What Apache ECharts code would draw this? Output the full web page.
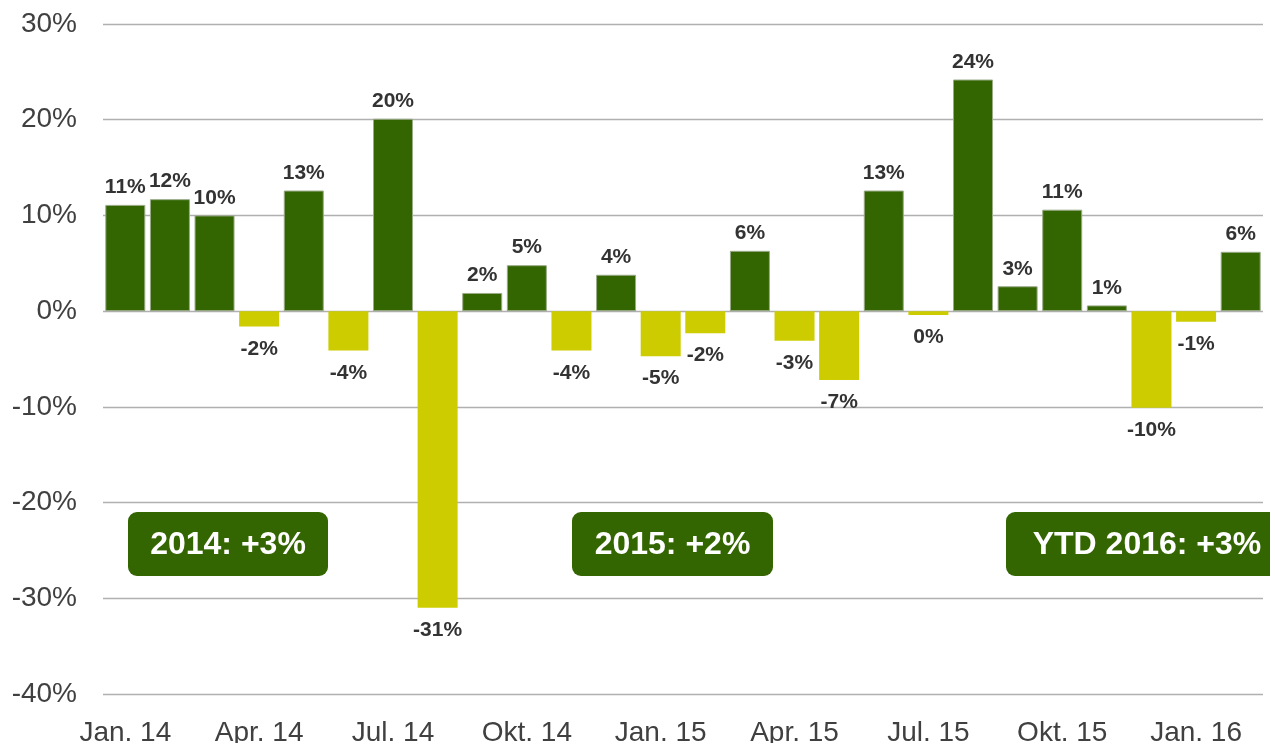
<!DOCTYPE html>
<html>
<head>
<meta charset="utf-8">
<script src="https://cdn.jsdelivr.net/npm/echarts@6/dist/echarts.min.js"></script>
<style>
html,body{margin:0;padding:0;background:#fff;}
#c{width:1270px;height:743px;}
</style>
</head>
<body>
<div id="c"></div>
<script>
const categories = ["Jan. 14","Feb. 14","Mrz. 14","Apr. 14","Mai. 14","Jun. 14","Jul. 14","Aug. 14","Sep. 14","Okt. 14","Nov. 14","Dez. 14",
  "Jan. 15","Feb. 15","Mrz. 15","Apr. 15","Mai. 15","Jun. 15","Jul. 15","Aug. 15","Sep. 15","Okt. 15","Nov. 15","Dez. 15",
  "Jan. 16","Feb. 16"];
const returns = [11.1, 11.7, 10.0, -1.6, 12.6, -4.1, 20.1, -31.0, 1.9, 4.8, -4.1, 3.8,
  -4.7, -2.3, 6.3, -3.1, -7.2, 12.6, -0.4, 24.2, 2.6, 10.6, 0.6, -10.1,
  -1.1, 6.2];
const yTicks = {min: -40, max: 30, interval: 10};
const annotations = ["2014: +3%", "2015: +2%", "YTD 2016: +3%"];

const POS = '#336600', NEG = '#cccc00';
const FONT = '"Liberation Sans", Arial, sans-serif';

const chart = echarts.init(document.getElementById('c'), null, {renderer: 'canvas'});
const data = returns.map(v => ({
  value: v,
  itemStyle: v >= 0 ? {color: POS, borderColor: '#9aab88', borderWidth: 1} : {color: NEG},
  label: {position: v >= 0 ? 'top' : 'bottom', distance: v >= 0 ? 7 : 12}
}));

function box(cx, cy, w, h, text) {
  return {
    type: 'group',
    children: [
      {type: 'rect', shape: {x: cx - w / 2, y: cy - h / 2, width: w, height: h, r: 9}, style: {fill: POS}},
      {type: 'text', x: cx, y: cy + 1, style: {text: text, fill: '#fff', font: 'bold 32px ' + FONT, align: 'center', verticalAlign: 'middle'}}
    ]
  };
}

chart.setOption({
  animation: false,
  backgroundColor: '#fff',
  grid: {left: 103, right: 7, top: 24, bottom: 49, containLabel: false, outerBoundsMode: 'none'},
  xAxis: {
    type: 'category',
    data: categories,
    axisLine: {show: false},
    axisTick: {show: false},
    axisLabel: {interval: 2, color: '#404040', fontSize: 28, fontFamily: FONT, margin: 25}
  },
  yAxis: {
    type: 'value',
    min: yTicks.min, max: yTicks.max, interval: yTicks.interval,
    axisLine: {show: false},
    axisTick: {show: false},
    axisLabel: {formatter: v => v + '%', color: '#404040', fontSize: 28, fontFamily: FONT, margin: 26, padding: [4, 0, 0, 0]},
    splitLine: {lineStyle: {color: '#b0b0b0', width: 1.3}}
  },
  series: [{
    type: 'bar',
    data: data,
    barWidth: 40,
    label: {
      show: true,
      formatter: p => (Math.round(p.value) + 0) + '%',
      fontSize: 21, fontWeight: 'bold', color: '#333333', fontFamily: FONT
    }
  }],
  graphic: [
    box(228, 544, 200, 64, annotations[0]),
    box(672.5, 544, 201, 64, annotations[1]),
    box(1147, 544, 282, 64, annotations[2])
  ]
});
</script>
</body>
</html>
